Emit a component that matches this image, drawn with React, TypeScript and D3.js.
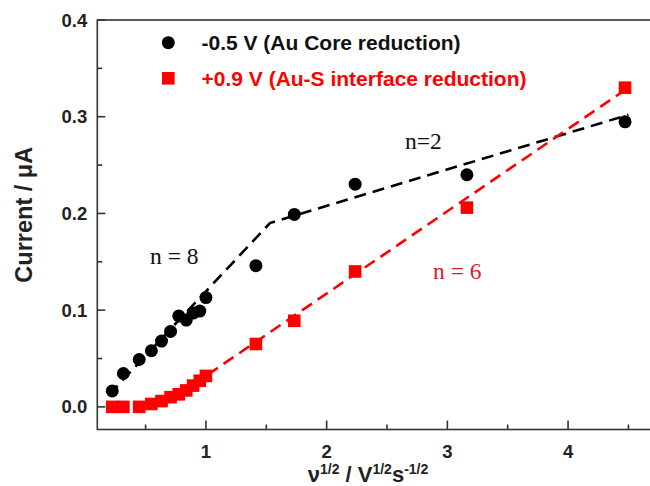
import { useRef, useEffect } from 'react';
import * as d3 from 'd3';

const W = 650;
const H = 486;

// sqrt of scan rate
const SQRT_RATE = [0.224, 0.316, 0.447, 0.548, 0.632, 0.707, 0.775, 0.837, 0.894, 0.949, 1.0, 1.414, 1.732, 2.236, 3.162, 4.472];
const CORE_CURRENT = [0.0165, 0.0345, 0.049, 0.058, 0.068, 0.078, 0.094, 0.0897, 0.097, 0.099, 0.113, 0.146, 0.199, 0.2303, 0.240, 0.2947];
const INTERFACE_CURRENT = [0.0, 0.0, 0.0, 0.003, 0.006, 0.010, 0.013, 0.017, 0.022, 0.027, 0.032, 0.065, 0.089, 0.140, 0.206, 0.330];

// guide lines drawn over the data
const CORE_FIT_X = [0.2, 1.53, 4.5];
const CORE_FIT_Y = [0.013, 0.19, 0.302];
const IFACE_FIT_X = [0.45, 0.7, 1.0, 4.5];
const IFACE_FIT_Y = [0.0, 0.01, 0.032, 0.33];

const Y_TICKS = [0.0, 0.1, 0.2, 0.3, 0.4];
const X_TICKS = [1, 2, 3, 4];

const RED = '#ff0000';

export default function App() {
  const svgRef = useRef<SVGSVGElement | null>(null);

  useEffect(() => {
    const svg = d3.select(svgRef.current);
    svg.selectAll('*').remove();

    const left = 97.3;
    const right = 651;
    const top = 20;
    const bottom = 429.5;

    const x = d3.scaleLinear().domain([0.1, 4.687]).range([left, right]);
    const y = d3.scaleLinear().domain([-0.0234, 0.4]).range([bottom, top]);

    const frame = svg.append('g').attr('stroke', '#333').attr('stroke-width', 1.6).attr('fill', 'none');
    frame.append('rect').attr('x', left).attr('y', top).attr('width', right - left + 5).attr('height', bottom - top);

    // y ticks (inward)
    d3.range(0, 0.4001, 0.05).forEach((v) => {
      const major = Math.abs(v * 10 - Math.round(v * 10)) < 1e-6;
      frame.append('line')
        .attr('x1', left).attr('x2', left + (major ? 8 : 5))
        .attr('y1', y(v)).attr('y2', y(v));
    });
    // x ticks (inward)
    d3.range(0.5, 4.6, 0.5).forEach((v) => {
      const major = Math.abs(v - Math.round(v)) < 1e-6;
      frame.append('line')
        .attr('x1', x(v)).attr('x2', x(v))
        .attr('y1', bottom).attr('y2', bottom - (major ? 9 : 5));
    });

    const lab = svg.append('g')
      .attr('font-family', 'Liberation Sans, Arial, sans-serif')
      .attr('font-weight', 'bold')
      .attr('fill', '#222');

    lab.selectAll('.yt').data(Y_TICKS).join('text')
      .attr('x', 87.3).attr('y', (d) => y(d) + 6.5)
      .attr('text-anchor', 'end').attr('font-size', 18.5)
      .text((d) => d.toFixed(1));

    lab.selectAll('.xt').data(X_TICKS).join('text')
      .attr('x', (d) => x(d)).attr('y', 458)
      .attr('text-anchor', 'middle').attr('font-size', 18.5)
      .text((d) => String(d));

    lab.append('text')
      .attr('transform', `translate(32,${(top + bottom) / 2 - 10}) rotate(-90)`)
      .attr('text-anchor', 'middle').attr('font-size', 23.5)
      .text('Current / \u03bcA');

    const xt = lab.append('text')
      .attr('x', 368).attr('y', 482)
      .attr('text-anchor', 'middle').attr('font-size', 22);
    xt.append('tspan').text('\u03bd');
    xt.append('tspan').attr('dy', -8).attr('font-size', 14).text('1/2');
    xt.append('tspan').attr('dy', 8).text(' / V');
    xt.append('tspan').attr('dy', -8).attr('font-size', 14).text('1/2');
    xt.append('tspan').attr('dy', 8).text('s');
    xt.append('tspan').attr('dy', -8).attr('font-size', 14).text('-1/2');

    const line = d3.line<[number, number]>().x((d) => x(d[0])).y((d) => y(d[1]));

    const coreData = SQRT_RATE.map((v, i) => [v, CORE_CURRENT[i]] as [number, number]);
    const ifaceData = SQRT_RATE.map((v, i) => [v, INTERFACE_CURRENT[i]] as [number, number]);

    // markers
    svg.append('g').selectAll('circle').data(coreData).join('circle')
      .attr('cx', (d) => x(d[0])).attr('cy', (d) => y(d[1]))
      .attr('r', 6.5).attr('fill', '#000');

    svg.append('g').selectAll('rect').data(ifaceData).join('rect')
      .attr('x', (d) => x(d[0]) - 6.3).attr('y', (d) => y(d[1]) - 6.3)
      .attr('width', 12.6).attr('height', 12.6).attr('fill', RED);

    // dashed guides
    svg.append('path')
      .datum(CORE_FIT_X.map((v, i) => [v, CORE_FIT_Y[i]] as [number, number]))
      .attr('d', line).attr('fill', 'none').attr('stroke', '#000')
      .attr('stroke-width', 2.6).attr('stroke-dasharray', '12,7');
    svg.append('path')
      .datum(IFACE_FIT_X.map((v, i) => [v, IFACE_FIT_Y[i]] as [number, number]))
      .attr('d', line).attr('fill', 'none').attr('stroke', RED)
      .attr('stroke-width', 2.6).attr('stroke-dasharray', '12,7');

    // legend
    const lg = svg.append('g')
      .attr('font-family', 'Liberation Sans, Arial, sans-serif')
      .attr('font-weight', 'bold').attr('font-size', 21);
    lg.append('circle').attr('cx', 168.3).attr('cy', 42.7).attr('r', 6.5).attr('fill', '#000');
    lg.append('text').attr('x', 201.5).attr('y', 50).attr('fill', '#111').text('-0.5 V (Au Core reduction)');
    lg.append('rect').attr('x', 162).attr('y', 72).attr('width', 12.6).attr('height', 12.6).attr('fill', RED);
    lg.append('text').attr('x', 201.5).attr('y', 86).attr('fill', RED).text('+0.9 V (Au-S interface reduction)');

    // annotations
    const an = svg.append('g')
      .attr('font-family', 'Liberation Serif, Times New Roman, serif').attr('font-size', 23.5);
    an.append('text').attr('x', 150).attr('y', 263.5).attr('fill', '#111').text('n = 8');
    an.append('text').attr('x', 405).attr('y', 149).attr('fill', '#111').text('n=2');
    an.append('text').attr('x', 433).attr('y', 279).attr('fill', '#d81e1e').text('n = 6');
  }, []);

  return <svg ref={svgRef} width={W} height={H} style={{ position: 'absolute', left: 0, top: 0 }} />;
}
